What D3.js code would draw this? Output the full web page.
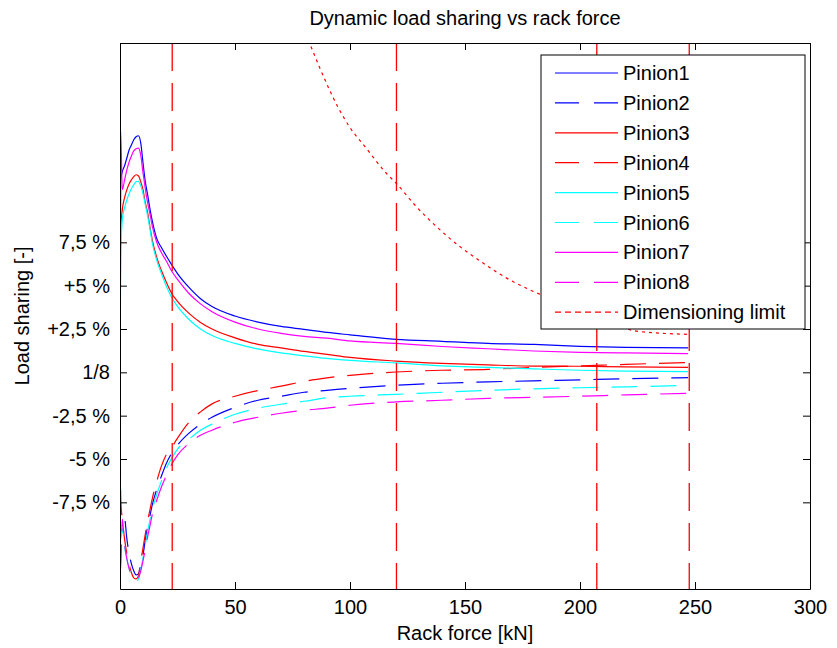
<!DOCTYPE html>
<html>
<head>
<meta charset="utf-8">
<script src="https://cdn.jsdelivr.net/npm/d3@7"></script>
<style>
  body { margin: 0; background: #fff; }
  svg { display: block; }
  text { font-family: Arial, "Liberation Sans", sans-serif; fill: #000; }
</style>
</head>
<body>
<svg id="chart" width="837" height="648"></svg>
<script>
// ---- data (load share in % of total rack force, 12.5 % = 1/8) ----
const rackForce = [0, 0.3, 1, 2, 3, 4, 5, 6, 7, 8, 9, 10, 11, 12, 13, 14, 16, 18, 20, 22.5, 25, 30, 35, 40, 50, 60, 70, 80, 90, 100, 120, 140, 160, 180, 200, 220, 247];

const pinion1 = [12.5, 23.61, 24.08, 24.42, 24.88, 25.34, 25.63, 25.92, 26.09, 26.15, 25.75, 24.59, 23.50, 22.75, 21.94, 21.25, 20.21, 19.70, 19.24, 18.70, 18.20, 17.40, 16.75, 16.30, 15.75, 15.40, 15.15, 14.98, 14.80, 14.66, 14.40, 14.29, 14.17, 14.11, 14.00, 13.94, 13.91];
const pinion2 = [12.5, 4.32, 4.50, 4.15, 2.88, 2.02, 1.44, 1.04, 0.81, 0.87, 1.39, 1.96, 2.83, 3.57, 4.21, 4.84, 5.76, 6.51, 7.20, 7.84, 8.30, 8.99, 9.51, 9.91, 10.48, 10.89, 11.12, 11.35, 11.46, 11.58, 11.75, 11.87, 11.95, 12.01, 12.07, 12.13, 12.19];
const pinion3 = [12.5, 20.74, 21.89, 22.58, 23.04, 23.38, 23.61, 23.79, 23.90, 23.84, 23.50, 23.04, 22.29, 21.71, 20.91, 20.16, 19.12, 18.37, 17.74, 17.05, 16.59, 15.90, 15.38, 15.00, 14.49, 14.11, 13.91, 13.71, 13.54, 13.36, 13.15, 13.02, 12.93, 12.86, 12.85, 12.82, 12.79];
const pinion4 = [12.5, 5.19, 4.03, 2.88, 2.02, 1.39, 0.92, 0.64, 0.58, 0.75, 1.62, 2.36, 3.17, 3.92, 4.55, 5.19, 6.22, 7.09, 7.72, 8.18, 8.70, 9.62, 10.22, 10.68, 11.12, 11.45, 11.70, 11.98, 12.18, 12.33, 12.52, 12.62, 12.67, 12.79, 12.87, 12.96, 13.06];
const pinion5 = [12.5, 19.01, 21.31, 22.00, 22.46, 22.81, 23.10, 23.33, 23.50, 23.52, 23.27, 22.81, 22.17, 21.54, 20.79, 19.99, 18.95, 18.20, 17.51, 16.82, 16.30, 15.55, 15.00, 14.62, 14.17, 13.85, 13.62, 13.45, 13.30, 13.19, 13.04, 12.87, 12.79, 12.70, 12.62, 12.57, 12.54];
const pinion6 = [12.5, 2.88, 3.46, 2.42, 1.73, 1.16, 0.75, 0.52, 0.42, 0.58, 1.10, 1.79, 2.54, 3.29, 3.98, 4.55, 5.47, 6.22, 6.91, 7.55, 8.07, 8.64, 9.16, 9.51, 10.08, 10.43, 10.66, 10.83, 11.03, 11.12, 11.23, 11.35, 11.46, 11.55, 11.61, 11.66, 11.75];
const pinion7 = [12.5, 26.40, 23.04, 23.61, 24.19, 24.65, 25.00, 25.28, 25.40, 25.44, 25.04, 24.02, 23.10, 22.29, 21.66, 20.97, 19.99, 19.41, 18.95, 18.33, 17.86, 17.05, 16.45, 16.00, 15.40, 15.00, 14.75, 14.57, 14.47, 14.31, 14.17, 13.99, 13.86, 13.73, 13.65, 13.62, 13.58];
const pinion8 = [12.5, 1.16, 4.03, 2.60, 1.73, 1.16, 0.81, 0.64, 0.58, 0.64, 1.04, 1.62, 2.31, 3.00, 3.63, 4.27, 5.13, 5.88, 6.51, 7.20, 7.72, 8.41, 8.87, 9.16, 9.62, 9.91, 10.14, 10.31, 10.43, 10.60, 10.79, 10.89, 11.00, 11.06, 11.12, 11.20, 11.29];

const limitForce = [80, 82.3, 86.6, 94.6, 99.7, 107, 115.7, 120, 128.7, 137.4, 147.6, 157.7, 167.9, 179.5, 190, 200, 212, 224.5, 247.5];
const limitValue = [32.0, 31.49, 30.14, 27.84, 26.68, 25.44, 24.0, 23.42, 22.08, 20.93, 19.77, 18.82, 17.95, 17.18, 16.6, 16.05, 15.45, 14.88, 14.69];

const markerForces = [22.7, 120.2, 207.3, 247.5];

const xTicks = [0, 50, 100, 150, 200, 250, 300];
const yTicks = [5, 7.5, 10, 12.5, 15, 17.5, 20];
const yTickLabels = ["-7,5 %", "-5 %", "-2,5 %", "1/8", "+2,5 %", "+5 %", "7,5 %"];

const seriesNames = ["Pinion1", "Pinion2", "Pinion3", "Pinion4", "Pinion5", "Pinion6", "Pinion7", "Pinion8"];
const seriesValues = [pinion1, pinion2, pinion3, pinion4, pinion5, pinion6, pinion7, pinion8];
const seriesColors = ["#0000ff", "#0000ff", "#ff0000", "#ff0000", "#00ffff", "#00ffff", "#ff00ff", "#ff00ff"];
const seriesDashed = [false, true, false, true, false, true, false, true];

// ---- layout ----
const L = 120, R = 810, T = 43, B = 589;
const svg = d3.select("#chart");
const x = d3.scaleLinear().domain([0, 300]).range([L, R]);
const y = d3.scaleLinear().domain([0, 31.5]).range([B, T]);

svg.append("defs").append("clipPath").attr("id", "plotclip")
  .append("rect").attr("x", L).attr("y", T).attr("width", R - L).attr("height", B - T);

const FONT = 20;
const DASH = "26,13";
const DOT = "3,4";

const plot = svg.append("g").attr("clip-path", "url(#plotclip)");
const line = d3.line().x(d => x(d[0])).y(d => y(d[1])).curve(d3.curveMonotoneX);

seriesValues.forEach((vals, i) => {
  plot.append("path")
    .datum(rackForce.map((f, k) => [f, vals[k]]))
    .attr("d", line)
    .attr("fill", "none")
    .attr("stroke", seriesColors[i])
    .attr("stroke-width", 1.2)
    .attr("stroke-dasharray", seriesDashed[i] ? DASH : null);
});

plot.append("path")
  .datum(limitForce.map((f, k) => [f, limitValue[k]]))
  .attr("d", line)
  .attr("fill", "none")
  .attr("stroke", "#ff0000")
  .attr("stroke-width", 1.2)
  .attr("stroke-dasharray", DOT);

markerForces.forEach(f => {
  plot.append("line")
    .attr("x1", x(f)).attr("x2", x(f))
    .attr("y1", y(31.5)).attr("y2", y(0))
    .attr("stroke", "#ff0000")
    .attr("stroke-width", 1.3)
    .attr("stroke-dasharray", "28,12");
});

// ---- axes ----
const axisBottom = d3.axisBottom(x).tickValues(xTicks).tickSizeInner(-7).tickSizeOuter(0).tickPadding(11);
const axisTop = d3.axisTop(x).tickValues(xTicks).tickSizeInner(-7).tickSizeOuter(0).tickFormat("");
const axisLeft = d3.axisLeft(y).tickValues(yTicks).tickSizeInner(-7).tickSizeOuter(0).tickPadding(10)
  .tickFormat((d, i) => yTickLabels[i]);
const axisRight = d3.axisRight(y).tickValues(yTicks).tickSizeInner(-7).tickSizeOuter(0).tickFormat("");

function styleAxis(g) {
  g.select(".domain").attr("stroke", "#000").attr("stroke-width", 1);
  g.selectAll(".tick line").attr("stroke", "#000");
  g.selectAll("text").style("font-size", FONT + "px").attr("fill", "#000")
    .style("font-family", "Arial, 'Liberation Sans', sans-serif");
}
svg.append("g").attr("transform", `translate(0,${B})`).call(axisBottom).call(styleAxis);
svg.append("g").attr("transform", `translate(0,${T})`).call(axisTop).call(styleAxis);
svg.append("g").attr("transform", `translate(${L},0)`).call(axisLeft).call(styleAxis);
svg.append("g").attr("transform", `translate(${R},0)`).call(axisRight).call(styleAxis);

// ---- titles ----
svg.append("text").attr("x", (L + R) / 2).attr("y", 25).attr("text-anchor", "middle")
  .style("font-size", FONT + "px").text("Dynamic load sharing vs rack force");
svg.append("text").attr("x", (L + R) / 2).attr("y", 640).attr("text-anchor", "middle")
  .style("font-size", FONT + "px").text("Rack force [kN]");
svg.append("text").attr("transform", `translate(29,${(T + B) / 2}) rotate(-90)`).attr("text-anchor", "middle")
  .style("font-size", FONT + "px").text("Load sharing [-]");

// ---- legend ----
const lg = svg.append("g");
lg.append("rect").attr("x", 541).attr("y", 55).attr("width", 264).attr("height", 274)
  .attr("fill", "#fff").attr("stroke", "#000").attr("stroke-width", 1);
const legendNames = seriesNames.concat(["Dimensioning limit"]);
legendNames.forEach((name, i) => {
  const cy = 73 + i * 29.9;
  lg.append("line").attr("x1", 555).attr("x2", 618).attr("y1", cy).attr("y2", cy)
    .attr("stroke", i < 8 ? seriesColors[i] : "#ff0000")
    .attr("stroke-width", 1.2)
    .attr("stroke-dasharray", i < 8 ? (seriesDashed[i] ? "24,15" : null) : "6,4");
  lg.append("text").attr("x", 623).attr("y", cy).attr("dy", "0.35em")
    .style("font-size", FONT + "px").text(name);
});
</script>
</body>
</html>
